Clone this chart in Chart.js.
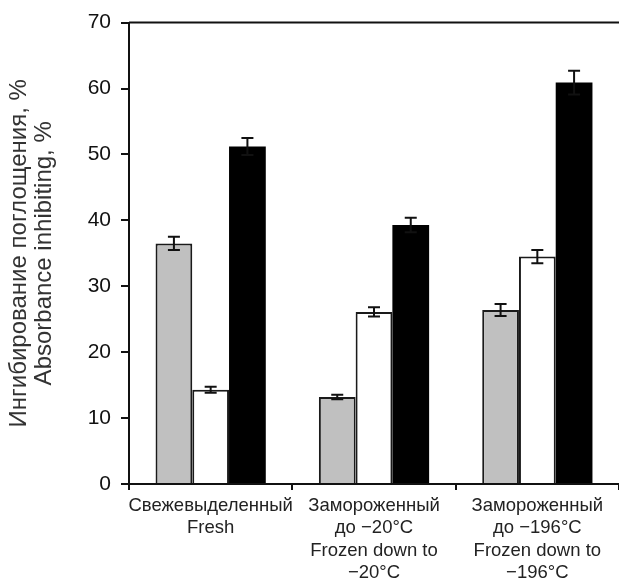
<!DOCTYPE html>
<html>
<head>
<meta charset="utf-8">
<script src="https://cdn.jsdelivr.net/npm/chart.js@4/dist/chart.umd.min.js"></script>
<style>
  html, body { margin: 0; padding: 0; background: #fff; }
  #wrap { width: 619px; height: 580px; }
</style>
</head>
<body>
<div id="wrap"><canvas id="myChart" width="619" height="580"></canvas></div>
<script>
/**
 * Chart data
 */

var categories = [
    ['Свежевыделенный', 'Fresh'],
    ['Замороженный', 'до −20°C', 'Frozen down to', '−20°C'],
    ['Замороженный', 'до −196°C', 'Frozen down to', '−196°C']
];

var grayValues = [36.5, 13.2, 26.4];
var grayErrors = [1.0, 0.35, 0.9];

var whiteValues = [14.3, 26.1, 34.5];
var whiteErrors = [0.45, 0.7, 1.0];

var blackValues = [51.2, 39.3, 60.9];
var blackErrors = [1.3, 1.1, 1.8];

var yTicks = [0, 10, 20, 30, 40, 50, 60, 70];

var yTitle = ['Ингибирование поглощения, %', 'Absorbance inhibiting, %'];

var fontFamily = '"Liberation Sans", Arial, sans-serif';

/**
 * Error bars + top frame line
 */

var errorBarPlugin = {
    id: 'errorBars',
    afterDatasetsDraw: function(chart) {
        var ctx = chart.ctx;
        var yScale = chart.scales.y;
        ctx.save();
        ctx.strokeStyle = '#111';
        ctx.lineWidth = 2;
        chart.data.datasets.forEach(function(ds, di) {
            var meta = chart.getDatasetMeta(di);
            meta.data.forEach(function(bar, i) {
                var v = ds.data[i];
                var e = ds.errors[i];
                var yTop = yScale.getPixelForValue(v + e);
                var yBot = yScale.getPixelForValue(v - e);
                var x = bar.x;
                var half = 6;
                ctx.beginPath();
                ctx.moveTo(x, yTop);
                ctx.lineTo(x, yBot);
                ctx.moveTo(x - half, yTop);
                ctx.lineTo(x + half, yTop);
                ctx.moveTo(x - half, yBot);
                ctx.lineTo(x + half, yBot);
                ctx.stroke();
            });
        });
        // top frame line
        var area = chart.chartArea;
        ctx.strokeStyle = '#111';
        ctx.lineWidth = 2;
        ctx.beginPath();
        ctx.moveTo(area.left, area.top);
        ctx.lineTo(chart.width, area.top);
        ctx.stroke();
        ctx.restore();
    }
};

var ctx = document.getElementById('myChart').getContext('2d');
var chart = new Chart(ctx, {
    type: 'bar',
    data: {
        labels: categories,
        datasets: [{
            data: grayValues,
            errors: grayErrors,
            backgroundColor: '#c0c0c0',
            borderColor: '#1a1a1a',
            borderWidth: 2
        }, {
            data: whiteValues,
            errors: whiteErrors,
            backgroundColor: '#ffffff',
            borderColor: '#1a1a1a',
            borderWidth: 2
        }, {
            data: blackValues,
            errors: blackErrors,
            backgroundColor: '#000000',
            borderColor: '#000000',
            borderWidth: 0
        }]
    },
    options: {
        responsive: false,
        animation: false,
        layout: { padding: { top: 21, right: 0, left: 0, bottom: 0 } },
        plugins: {
            legend: { display: false },
            tooltip: { enabled: false }
        },
        datasets: {
            bar: { barPercentage: 1.0, categoryPercentage: 0.675 }
        },
        scales: {
            x: {
                offset: true,
                grid: {
                    offset: true,
                    drawOnChartArea: false,
                    drawTicks: true,
                    tickLength: 6,
                    color: '#111',
                    lineWidth: 2
                },
                border: { color: '#111', width: 2 },
                ticks: {
                    color: '#222',
                    maxRotation: 0,
                    autoSkip: false,
                    padding: 5,
                    font: { family: fontFamily, size: 18.5, lineHeight: 1.2 }
                },
                afterFit: function(scale) { scale.height = 96; }
            },
            y: {
                min: 0,
                max: 70,
                afterBuildTicks: function(scale) {
                    scale.ticks = yTicks.map(function(v) { return { value: v }; });
                },
                grid: {
                    drawOnChartArea: false,
                    drawTicks: true,
                    tickLength: 8,
                    color: '#111',
                    lineWidth: 2
                },
                border: { color: '#111', width: 2 },
                ticks: {
                    color: '#111',
                    padding: 10,
                    font: { family: fontFamily, size: 21 }
                },
                title: {
                    display: true,
                    text: yTitle,
                    color: '#333',
                    padding: { top: 7, bottom: 14 },
                    font: { family: fontFamily, size: 24, lineHeight: 1.05 }
                },
                afterFit: function(scale) { scale.width = 129; }
            }
        }
    },
    plugins: [errorBarPlugin]
});
</script>
</body>
</html>
